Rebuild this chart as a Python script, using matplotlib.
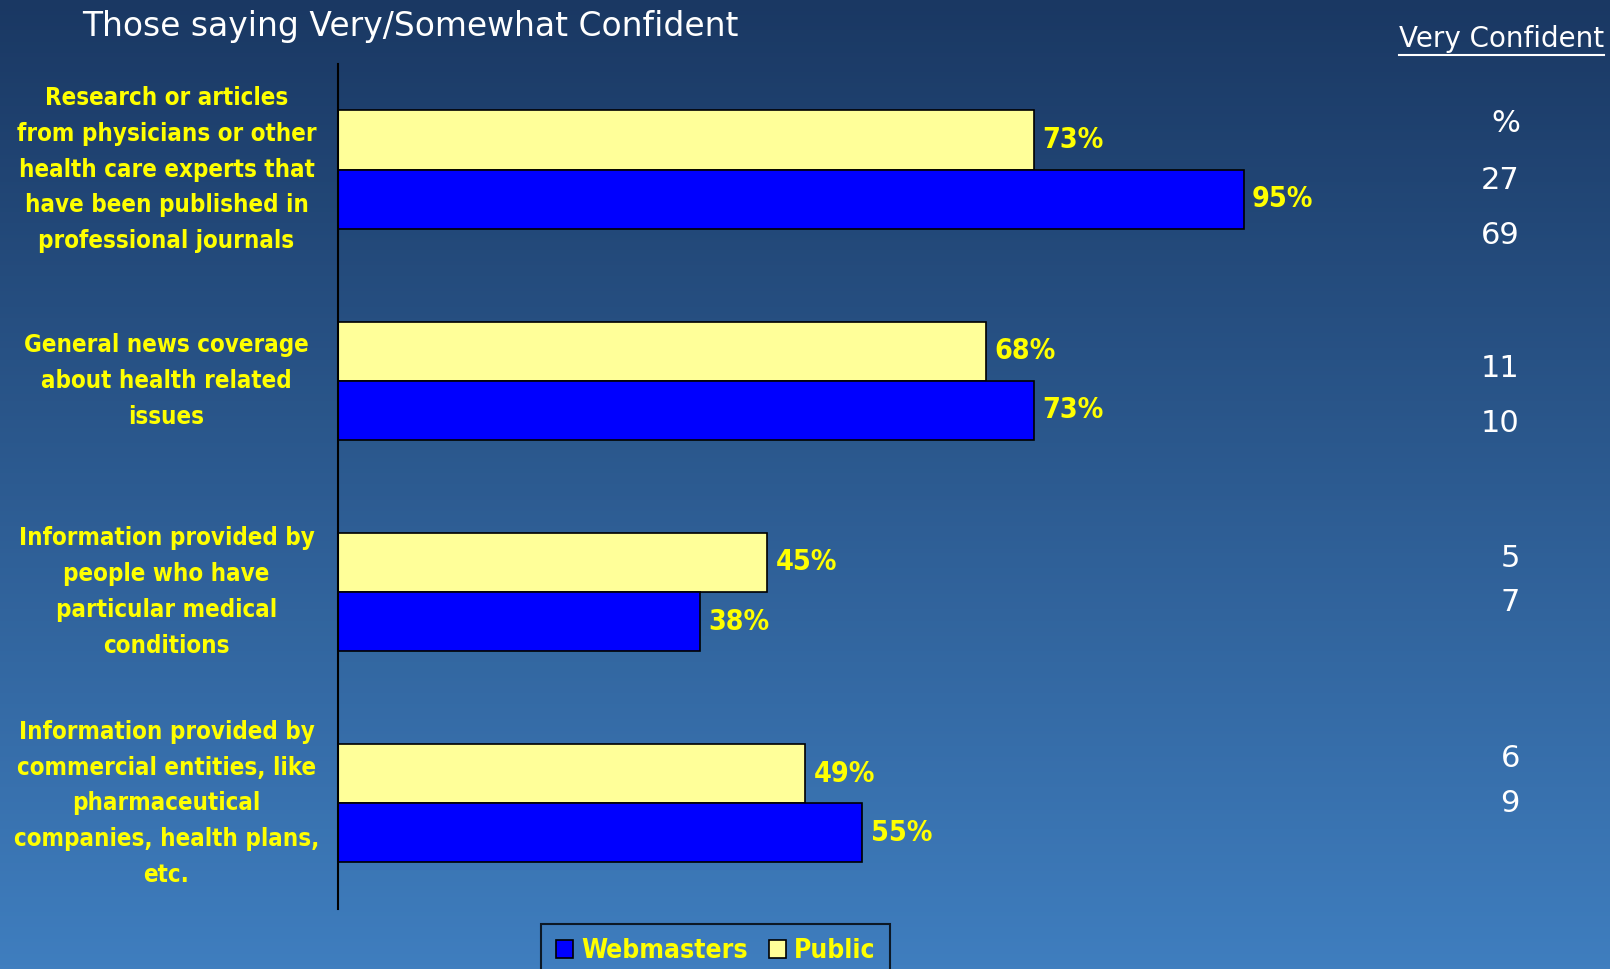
import matplotlib
matplotlib.use("Agg")
import matplotlib.pyplot as plt
import matplotlib.transforms as mtrans
import numpy as np
from matplotlib.lines import Line2D

# survey items and shares saying very/somewhat confident
categories = [
    "Research or articles\nfrom physicians or other\nhealth care experts that\nhave been published in\nprofessional journals",
    "General news coverage\nabout health related\nissues",
    "Information provided by\npeople who have\nparticular medical\nconditions",
    "Information provided by\ncommercial entities, like\npharmaceutical\ncompanies, health plans,\netc.",
]
public_pct = [73, 68, 45, 49]
webmaster_pct = [95, 73, 38, 55]

# "very confident" column on the right
very_public = [27, 11, 5, 6]
very_webmasters = [69, 10, 7, 9]

title = "Those saying Very/Somewhat Confident"
side_header = "Very Confident"

YELLOW_TXT = "#ffff00"
PUBLIC_CLR = "#ffff99"
WEB_CLR = "#0000ff"

fig = plt.figure(figsize=(16.1, 9.69), dpi=100)

# vertical blue gradient background
bg = fig.add_axes([0, 0, 1, 1], zorder=-10)
top = np.array([0x1a, 0x38, 0x63]) / 255
bot = np.array([0x3f, 0x7e, 0xbf]) / 255
t = np.linspace(0, 1, 256)[:, None]
grad = top + (bot - top) * t
bg.imshow(grad[:, None, :], aspect="auto", extent=[0, 1, 0, 1], origin="upper")
bg.axis("off")

ax = fig.add_axes([0.21, 0.062, 0.592, 0.872])
ax.patch.set_alpha(0)

h = 0.28
y = np.arange(len(categories))
pub_bars = ax.barh(y - h / 2, public_pct, height=h, color=PUBLIC_CLR,
                   edgecolor="black", linewidth=1.2, label="Public")
web_bars = ax.barh(y + h / 2, webmaster_pct, height=h, color=WEB_CLR,
                   edgecolor="black", linewidth=1.2, label="Webmasters")

lab_font = dict(color=YELLOW_TXT, fontweight="bold", fontstretch="condensed")
for bars, vals in [(pub_bars, public_pct), (web_bars, webmaster_pct)]:
    for b, v in zip(bars, vals):
        ax.annotate(f"{v}%", (b.get_width(), b.get_y() + b.get_height() / 2),
                    xytext=(6, 0), textcoords="offset points",
                    va="center", ha="left", fontsize=20.5, **lab_font)

ax.set_xlim(0, 100)
ax.set_ylim(len(categories) - 0.5, -0.5)
ax.set_xticks([])
ax.set_yticks([])
for s in ["top", "right", "bottom"]:
    ax.spines[s].set_visible(False)
ax.spines["left"].set_color("black")
ax.spines["left"].set_linewidth(1.5)

# category labels centred to the left of the axis
for i, c in enumerate(categories):
    ax.text(-18.0, i, c, ha="center", va="center", linespacing=1.62,
            fontsize=17.3, transform=ax.transData, **lab_font)

fig.text(0.051, 0.973, title, color="white", fontsize=23.7, ha="left", va="center")

hdr = fig.text(0.9965, 0.96, side_header, color="white", fontsize=20,
               ha="right", va="center")
fig.canvas.draw()
bb = hdr.get_window_extent().transformed(fig.transFigure.inverted())
fig.add_artist(Line2D([bb.x0, bb.x1], [bb.y0 - 0.002, bb.y0 - 0.002],
                      color="white", lw=1.5, transform=fig.transFigure))

# right-hand numbers, positioned relative to each category row
num_x = 0.944
pub_off = [0.05, -0.06, -0.16, -0.21]
web_off = [0.31, 0.20, 0.05, 0.00]
num_font = dict(color="white", fontsize=22, ha="right", va="center")
tr = mtrans.blended_transform_factory(fig.transFigure, ax.transData)
fig.text(num_x, -0.22, "%", transform=tr, **num_font)
for i in range(len(categories)):
    fig.text(num_x, i + pub_off[i], str(very_public[i]), transform=tr, **num_font)
    fig.text(num_x, i + web_off[i], str(very_webmasters[i]), transform=tr, **num_font)

leg = fig.legend(handles=[web_bars, pub_bars], labels=["Webmasters", "Public"],
                 loc="upper center", bbox_to_anchor=(0.4445, 0.0605), ncol=2,
                 frameon=True, fancybox=False, handlelength=0.65, handleheight=0.65,
                 handletextpad=0.3, columnspacing=0.8, borderpad=0.55,
                 prop=dict(weight="bold", size=19, stretch="condensed"))
leg.get_frame().set_facecolor("none")
leg.get_frame().set_edgecolor("black")
leg.get_frame().set_linewidth(1.5)
for txt in leg.get_texts():
    txt.set_color(YELLOW_TXT)

fig.savefig("out.png", dpi=100)
